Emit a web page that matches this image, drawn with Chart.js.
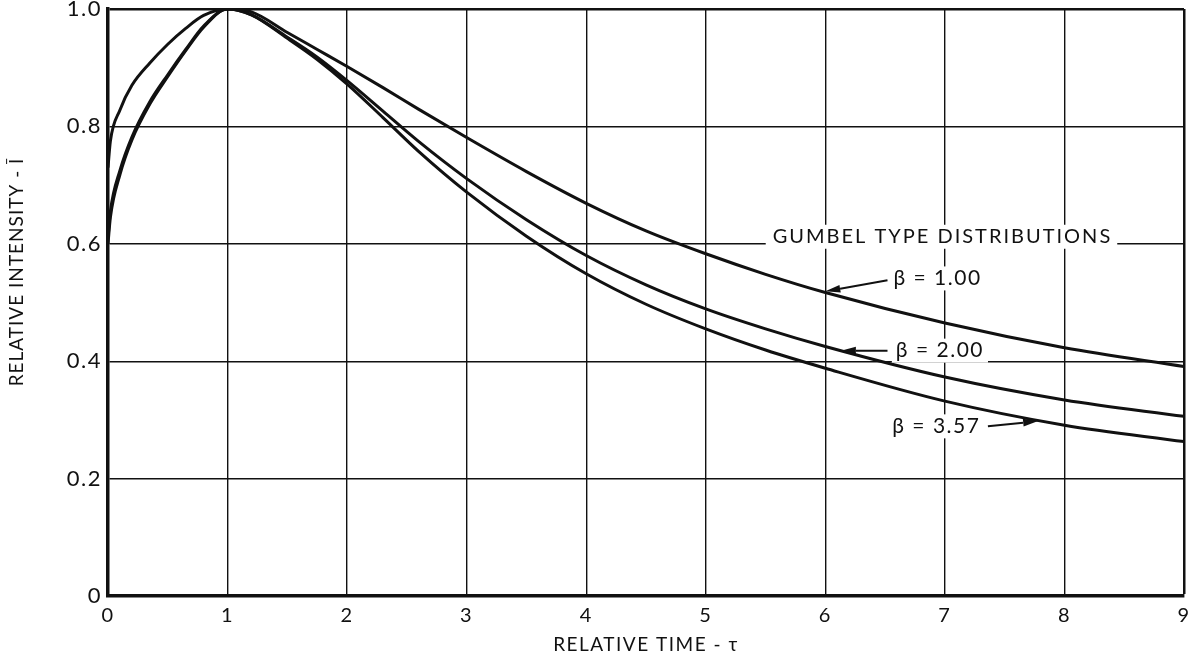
<!DOCTYPE html>
<html>
<head>
<meta charset="utf-8">
<title>Gumbel type distributions</title>
<script src="https://cdn.jsdelivr.net/npm/chart.js@4.4.1/dist/chart.umd.min.js"></script>
<style>
  html, body { margin: 0; padding: 0; background: #fff; }
  #chart { display: block; }
</style>
</head>
<body>
<canvas id="chart" width="1195" height="663"></canvas>
<script>
// relative time samples shared by all three curves
const tau = [0, 0.02, 0.1, 0.2, 0.35, 0.5, 0.65, 0.8, 1.0, 1.2, 1.5, 1.75, 2.0, 2.3, 2.6, 3.0, 3.5, 4.0, 4.5, 5.0, 5.5, 6.0, 7.0, 8.0, 9.0];

// relative intensity for each shape parameter
const beta100 = [0.73, 0.775, 0.828, 0.87, 0.908, 0.94, 0.967, 0.989, 1.0, 0.995, 0.96, 0.931, 0.902, 0.866, 0.829, 0.781, 0.723, 0.669, 0.622, 0.583, 0.548, 0.517, 0.465, 0.423, 0.391];
const beta200 = [0.61, 0.655, 0.725, 0.782, 0.842, 0.888, 0.931, 0.971, 1.0, 0.99, 0.952, 0.918, 0.878, 0.826, 0.774, 0.711, 0.641, 0.58, 0.53, 0.489, 0.455, 0.425, 0.373, 0.334, 0.306];
const beta357 = [0.6, 0.645, 0.718, 0.777, 0.838, 0.885, 0.929, 0.969, 1.0, 0.99, 0.95, 0.914, 0.872, 0.815, 0.757, 0.688, 0.613, 0.549, 0.497, 0.455, 0.419, 0.388, 0.332, 0.291, 0.263];

const seriesLabels = ['β = 1.00', 'β = 2.00', 'β = 3.57'];
const xTitle = 'RELATIVE TIME - τ';
const yTitle = 'RELATIVE INTENSITY - Ī';
const heading = 'GUMBEL TYPE DISTRIBUTIONS';

const FONT = 'Lato, "Noto Sans", sans-serif';

// where the curve labels sit, in data units (label anchor, arrow tail, arrow head)
const callouts = [
  { label: seriesLabels[0], at: [6.57, 0.541], from: [6.52, 0.538], to: [6.0, 0.519] },
  { label: seriesLabels[1], at: [6.59, 0.418], from: [6.52, 0.418], to: [6.13, 0.418] },
  { label: seriesLabels[2], at: [6.56, 0.289], from: [7.36, 0.289], to: [7.78, 0.298] },
];

function toPoints(values) {
  return tau.map((t, i) => ({ x: t, y: values[i] }));
}

function drawArrow(ctx, x1, y1, x2, y2) {
  const a = Math.atan2(y2 - y1, x2 - x1);
  const len = 15, half = 3.8;
  ctx.beginPath();
  ctx.moveTo(x1, y1);
  ctx.lineTo(x2 - len * Math.cos(a), y2 - len * Math.sin(a));
  ctx.stroke();
  ctx.beginPath();
  ctx.moveTo(x2, y2);
  ctx.lineTo(x2 - len * Math.cos(a) + half * Math.sin(a), y2 - len * Math.sin(a) - half * Math.cos(a));
  ctx.lineTo(x2 - len * Math.cos(a) - half * Math.sin(a), y2 - len * Math.sin(a) + half * Math.cos(a));
  ctx.closePath();
  ctx.fill();
}

// the lettering on this sheet is widely spaced
const spacing = {
  id: 'spacing',
  beforeDraw(chart) { chart.ctx.letterSpacing = '1.5px'; },
  afterDraw(chart) { chart.ctx.letterSpacing = '0px'; },
};

// heading, curve labels with arrows, and the vertical axis title
const annotate = {
  id: 'annotate',
  afterDraw(chart) {
    const { ctx, scales: { x, y } } = chart;
    ctx.save();
    ctx.fillStyle = '#111';
    ctx.strokeStyle = '#111';
    ctx.textBaseline = 'middle';
    ctx.textAlign = 'left';

    // heading breaks the 0.6 grid line
    ctx.font = '20px ' + FONT;
    ctx.letterSpacing = '2px';
    const hx = x.getPixelForValue(5.56);
    const hy = y.getPixelForValue(0.612);
    const hw = ctx.measureText(heading).width;
    ctx.fillStyle = '#fff';
    ctx.fillRect(hx - 7, hy - 12, hw + 12, 24);
    ctx.fillStyle = '#111';
    ctx.fillText(heading, hx, hy);

    ctx.font = '21px ' + FONT;
    ctx.letterSpacing = '1.5px';
    ctx.lineWidth = 2;
    callouts.forEach(c => {
      const tx = x.getPixelForValue(c.at[0]);
      const ty = y.getPixelForValue(c.at[1]);
      const w = ctx.measureText(c.label).width;
      ctx.fillStyle = '#fff';
      ctx.fillRect(tx - 4, ty - 12, w + 8, 24);
      ctx.fillStyle = '#111';
      ctx.fillText(c.label, tx, ty);
      drawArrow(ctx,
        x.getPixelForValue(c.from[0]), y.getPixelForValue(c.from[1]),
        x.getPixelForValue(c.to[0]), y.getPixelForValue(c.to[1]));
    });

    ctx.letterSpacing = '1px';
    ctx.font = '19px ' + FONT;
    ctx.translate(17, y.getPixelForValue(0.552));
    ctx.rotate(-Math.PI / 2);
    ctx.textAlign = 'center';
    ctx.fillText(yTitle, 0, 0);
    ctx.restore();
  }
};

const lineStyle = {
  borderColor: '#111',
  borderWidth: 3,
  pointRadius: 0,
  fill: false,
  cubicInterpolationMode: 'monotone',
};

new Chart(document.getElementById('chart'), {
  type: 'line',
  data: {
    datasets: [
      { label: seriesLabels[0], data: toPoints(beta100), ...lineStyle },
      { label: seriesLabels[1], data: toPoints(beta200), ...lineStyle },
      { label: seriesLabels[2], data: toPoints(beta357), ...lineStyle },
    ],
  },
  options: {
    responsive: false,
    animation: false,
    layout: { padding: { left: 0, right: 11, top: 9, bottom: 0 } },
    plugins: {
      legend: { display: false },
      tooltip: { enabled: false },
    },
    scales: {
      x: {
        type: 'linear',
        min: 0,
        max: 9,
        afterFit: scale => {
          scale.height = 67;
          scale.paddingLeft = 0;
          scale.paddingRight = 0;
        },
        grid: {
          color: '#111',
          lineWidth: c => (c.tick && c.tick.value === 9 ? 2.5 : 1.4),
          drawTicks: false,
        },
        border: { color: '#111', width: 3.5 },
        ticks: {
          stepSize: 1,
          padding: 8,
          color: '#111',
          maxRotation: 0,
          font: { family: FONT, size: 20 },
        },
        title: {
          display: true,
          text: xTitle,
          color: '#111',
          font: { family: FONT, size: 19 },
          padding: { top: 0, bottom: 7 },
        },
      },
      y: {
        min: 0,
        max: 1,
        afterFit: scale => {
          scale.width = 108;
          scale.paddingTop = 0;
          scale.paddingBottom = 0;
        },
        grid: {
          color: '#111',
          lineWidth: c => (c.tick && Math.abs(c.tick.value - 1) < 1e-6 ? 2.5 : 1.4),
          drawTicks: false,
        },
        border: { color: '#111', width: 3.5 },
        ticks: {
          stepSize: 0.2,
          padding: 6,
          color: '#111',
          font: { family: FONT, size: 22 },
          callback: v => (v === 0 ? '0' : v.toFixed(1)),
        },
      },
    },
  },
  plugins: [spacing, annotate],
});
</script>
</body>
</html>
